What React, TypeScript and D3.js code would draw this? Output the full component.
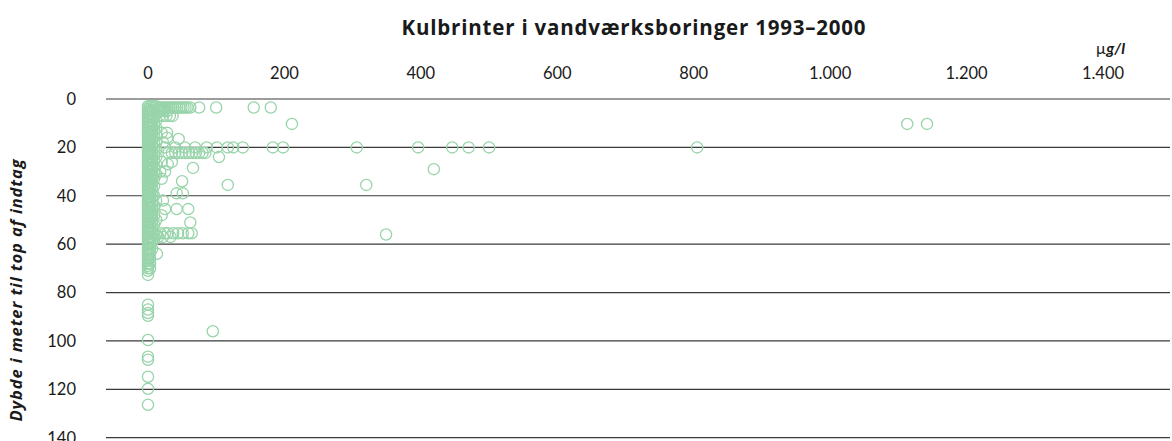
import React from "react";
import * as d3 from "d3";

const title = "Kulbrinter i vandværksboringer 1993–2000";
const yTitle = "Dybde i meter til top af indtag";
const xTicks = [0, 200, 400, 600, 800, 1000, 1200, 1400];
const xTickLabels = ["0", "200", "400", "600", "800", "1.000", "1.200", "1.400"];
const yTicks = [0, 20, 40, 60, 80, 100, 120, 140];

// dense column near zero: [value µg/l, depth m]
const columnPoints: [number, number][] = [
  [0, 3], [0, 4], [0, 5], [0, 6], [0, 7], [0, 8], [0, 9], [0, 10], [0, 11], [0, 12], [0, 13], [0, 14],
  [0, 15], [0, 16], [0, 17], [0, 18], [0, 19], [0, 20], [0, 21], [0, 22], [0, 23], [0, 24], [0, 25],
  [0, 26], [0, 27], [0, 28], [0, 29], [0, 30], [0, 31], [0, 32], [0, 33], [0, 34], [0, 35], [0, 36],
  [0, 37], [0, 38], [0, 39], [0, 40], [0, 41], [0, 42], [0, 43], [0, 44], [0, 45], [0, 46], [0, 47],
  [0, 48], [0, 49], [0, 50], [0, 51], [0, 52], [0, 53], [0, 54], [0, 55], [0, 56], [0, 57], [0, 58],
  [0, 59], [0, 60], [0, 61], [0, 62], [0, 63], [0, 64], [0, 65], [0, 66], [0, 67], [0, 68], [0, 69],
  [0, 70], [0, 71], [0, 72.7],
  [3, 3], [3, 4.5], [3, 6], [3, 7.5], [3, 9], [3, 10.5], [3, 12], [3, 13.5], [3, 15], [3, 16.5], [3, 18],
  [3, 19.5], [3, 21], [3, 22.5], [3, 24], [3, 25.5], [3, 27], [3, 28.5], [3, 30], [3, 31.5], [3, 33],
  [3, 34.5], [3, 36], [3, 37.5], [3, 39], [3, 40.5], [3, 42], [3, 43.5], [3, 45], [3, 46.5], [3, 48],
  [3, 49.5], [3, 51], [3, 52.5], [3, 54], [3, 55.5], [3, 57], [3, 58.5], [3, 60], [3, 62], [3, 64],
  [3, 66], [3, 68], [3, 70],
  [6, 3], [6, 5], [6, 7], [6, 9], [6, 11], [6, 13], [6, 15], [6, 17], [6, 19], [6, 21], [6, 23], [6, 25],
  [6, 27], [6, 29], [6, 31], [6, 33], [6, 35], [6, 37], [6, 39], [6, 41], [6, 43], [6, 45], [6, 47],
  [6, 49], [6, 51], [6, 53], [6, 55], [6, 57], [6, 59], [6, 62],
  [9, 3], [9, 5.5], [9, 8], [9, 10.5], [9, 13], [9, 15.5], [9, 18], [9, 20.5], [9, 23], [9, 25.5],
  [9, 28], [9, 30.5], [9, 33], [9, 36], [9, 40], [9, 44], [9, 48], [9, 52], [9, 55.5], [9, 58],
  [12, 3], [12, 6], [12, 9], [12, 12], [12, 15], [12, 18], [12, 21], [12, 24], [12, 27], [12, 31],
  [12, 42], [12, 50], [12, 56],
  [0, 85], [0, 87], [0, 88.5], [0, 89.6], [0, 99.6], [0, 106.5], [0, 107.8], [0, 114.8], [0, 119.8], [0, 126.4],
];

// scattered points: [value µg/l, depth m]
const scatterPoints: [number, number][] = [
  [16, 3.5], [19, 3.5], [22, 3.5], [25, 3.5], [28, 3.5], [31, 3.5], [34, 3.5], [37, 3.5], [40, 3.5],
  [43, 3.5], [46, 3.5], [49, 3.5], [52, 3.5], [55, 3.5], [58, 3.5], [62, 3.5], [75, 3.5], [100, 3.5],
  [155, 3.5], [180, 3.5],
  [16, 5], [20, 5], [24, 5], [28, 5],
  [17, 7], [22, 7], [27, 7], [32, 7], [36, 7],
  [211, 10.3], [1113, 10.3], [1142, 10.3],
  [20, 14], [28, 14],
  [28, 16], [45, 16.5],
  [22, 18],
  [25, 20], [40, 20], [54, 20], [69, 20], [86, 20], [101, 20], [117, 20], [125, 20], [139, 20],
  [183, 20], [198, 20], [306, 20], [396, 20], [446, 20], [470, 20], [500, 20], [805, 20],
  [30, 22.3], [35, 22.3], [40, 22.3], [45, 22.3], [50, 22.3], [55, 22.3], [60, 22.3], [65, 22.3],
  [70, 22.3], [75, 22.3], [80, 22.3], [84, 22.3],
  [104, 24],
  [20, 26], [35, 26], [29, 27], [66, 28.5], [419, 29],
  [18, 30], [25, 30], [20, 33], [50, 34],
  [117, 35.5], [320, 35.5],
  [42, 39], [51, 39],
  [22, 42],
  [25, 45.5], [42, 45.5], [59, 45.5],
  [20, 48],
  [62, 51],
  [18, 55.5], [25, 55.5], [29, 55.5], [37, 55.5], [44, 55.5], [51, 55.5], [59, 55.5], [64, 55.5],
  [349, 56],
  [15, 57], [22, 57], [33, 57],
  [13, 64],
  [95, 96],
];

const W = 1172;
const H = 441;
const lineX0 = 106;
const lineX1 = 1170;

export default function App() {
  const x = d3.scaleLinear().domain([0, 1400]).range([148, 1103]);
  const y = d3.scaleLinear().domain([0, 140]).range([99, 437.7]);
  const all = [...columnPoints, ...scatterPoints];
  const tickFont = "Lato, 'Open Sans', sans-serif";
  const titleFont = "'Open Sans', Lato, sans-serif";
  return (
    <svg
      width={W}
      height={H}
      style={{ position: "absolute", left: 0, top: 0, background: "#fff" }}
      fontFamily={tickFont}
    >
      <text x={634} y={35} textAnchor="middle" fontSize={20.5} letterSpacing={0.8} fontWeight="bold" fill="#1a1a1a" fontFamily={titleFont}>
        {title}
      </text>
      <text x={1125} y={54} textAnchor="end" fontSize={16} fill="#1a1a1a">
        <tspan>µ</tspan>
        <tspan fontWeight="bold" fontStyle="italic">g/l</tspan>
      </text>
      {xTicks.map((t, i) => (
        <text key={t} x={x(t)} y={79} textAnchor="middle" fontSize={16.5} fill="#1a1a1a">
          {xTickLabels[i]}
        </text>
      ))}
      {yTicks.map((t) => (
        <g key={t}>
          <line x1={lineX0} x2={lineX1} y1={y(t)} y2={y(t)} stroke="#3a3a3a" strokeWidth={1.2} />
          <text x={76} y={y(t)} dy="0.36em" textAnchor="end" fontSize={16.5} fill="#1a1a1a">
            {t}
          </text>
        </g>
      ))}
      <text
        transform={`translate(22,290) rotate(-90)`}
        textAnchor="middle"
        fontSize={16.5}
        letterSpacing={0.9}
        fontWeight="bold"
        fontStyle="italic"
        fill="#1a1a1a"
        fontFamily={titleFont}
      >
        {yTitle}
      </text>
      <g>
        {all.map((p, i) => (
          <circle
            key={i}
            cx={x(p[0])}
            cy={y(p[1])}
            r={5.6}
            fill="none"
            stroke="#98d4aa"
            strokeWidth={1.3}
          />
        ))}
      </g>
    </svg>
  );
}
